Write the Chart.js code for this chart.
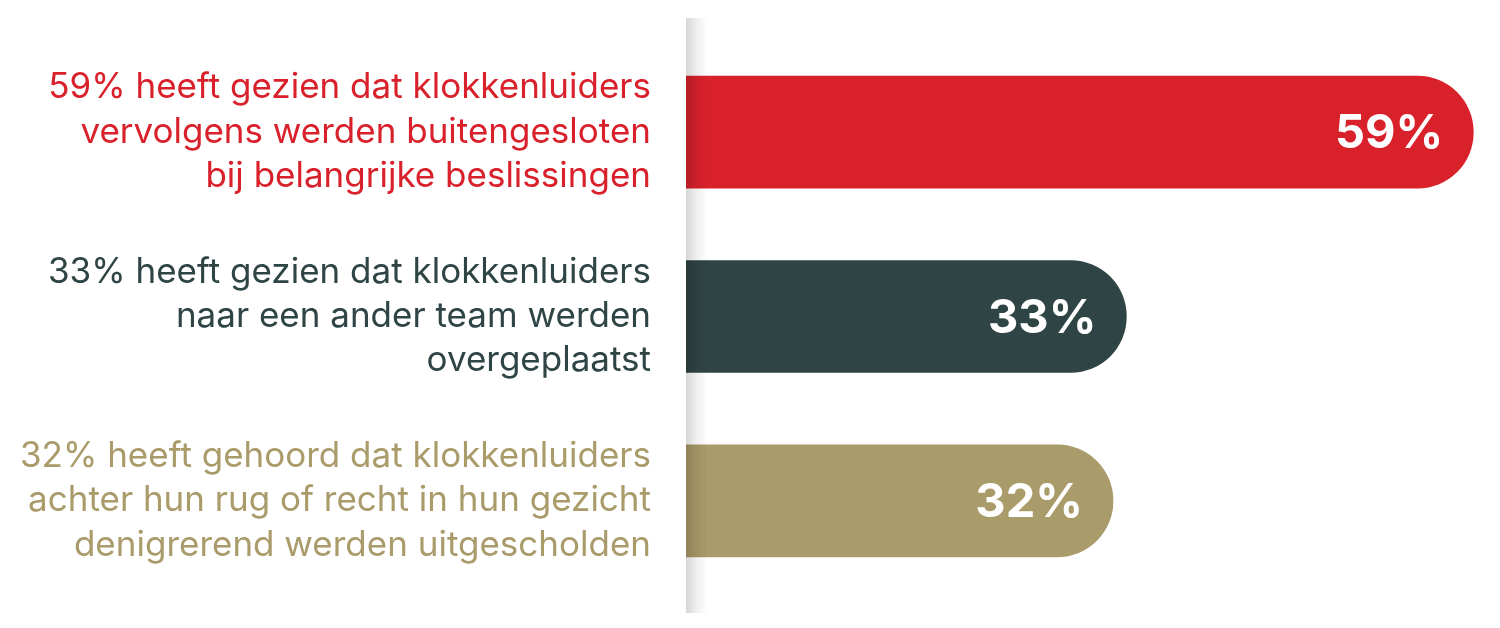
<!DOCTYPE html>
<html>
<head>
<meta charset="utf-8">
<script src="https://cdn.jsdelivr.net/npm/chart.js@4/dist/chart.umd.min.js"></script>
<style>
  html, body { margin: 0; padding: 0; background: #ffffff; }
  #chart { display: block; }
</style>
</head>
<body>
<canvas id="chart" width="1500" height="628"></canvas>
<script>
window.onload = onPageLoad;

// chart data
const categories = [
    ["59% heeft gezien dat klokkenluiders", "vervolgens werden buitengesloten", "bij belangrijke beslissingen"],
    ["33% heeft gezien dat klokkenluiders", "naar een ander team werden", "overgeplaatst"],
    ["32% heeft gehoord dat klokkenluiders", "achter hun rug of recht in hun gezicht", "denigrerend werden uitgescholden"]
];
const percentages = [59, 33, 32];
const valueLabels = ["59%", "33%", "32%"];
const barColors = ["#D9212B", "#2F4444", "#AA9B6A"];

// grey divider + soft shadow on the left edge of the bars
const dividerShadow = {
    id: "dividerShadow",
    afterDatasetsDraw(chart) {
        const ctx = chart.ctx;
        const x0 = chart.chartArea.left;
        const grad = ctx.createLinearGradient(x0, 0, x0 + 22, 0);
        grad.addColorStop(0, "rgba(0,0,0,0.16)");
        grad.addColorStop(0.5, "rgba(0,0,0,0.06)");
        grad.addColorStop(1, "rgba(0,0,0,0)");
        ctx.save();
        ctx.fillStyle = grad;
        ctx.fillRect(x0, 18, 22, 595);
        ctx.restore();
    }
};

// white percentages inside the bar ends
const valueText = {
    id: "valueText",
    afterDatasetsDraw(chart) {
        const ctx = chart.ctx;
        const meta = chart.getDatasetMeta(0);
        ctx.save();
        ctx.fillStyle = "#ffffff";
        ctx.font = "bold 47px Inter, 'Open Sans', sans-serif";
        ctx.textAlign = "right";
        ctx.textBaseline = "middle";
        meta.data.forEach(function(bar, i) {
            ctx.fillText(valueLabels[i], bar.x - 30, bar.y + 2);
        });
        ctx.restore();
    }
};

function onPageLoad() {
    createChart();
}

function createChart() {
    var context = document.getElementById("chart").getContext("2d");

    new Chart(context, {
        type: "bar",
        data: {
            labels: categories,
            datasets: [{
                data: percentages,
                backgroundColor: barColors,
                barThickness: 112,
                borderRadius: 56,
                borderSkipped: "start"
            }]
        },
        options: {
            indexAxis: "y",
            responsive: false,
            animation: false,
            devicePixelRatio: 1,
            layout: { padding: { top: 40, bottom: 35, left: 0, right: 0 } },
            plugins: {
                legend: { display: false },
                tooltip: { enabled: false }
            },
            scales: {
                x: {
                    display: false,
                    min: 0,
                    max: 61
                },
                y: {
                    afterFit(scale) {
                        // fixed axis width, and no extra room for the tall labels
                        scale.width = 686;
                        scale.paddingTop = 0;
                        scale.paddingBottom = 0;
                    },
                    grid: { display: false, drawTicks: false },
                    border: { display: false },
                    ticks: {
                        padding: 35,
                        color: (c) => barColors[c.index],
                        font: { family: "Inter, 'Open Sans', sans-serif", size: 35, lineHeight: 1.27 }
                    }
                }
            }
        },
        plugins: [dividerShadow, valueText]
    });
}
</script>
</body>
</html>
